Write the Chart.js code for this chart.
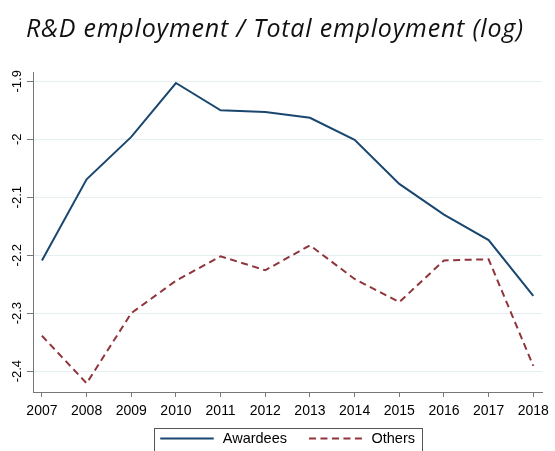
<!DOCTYPE html>
<html>
<head>
<meta charset="utf-8">
<script src="https://cdn.jsdelivr.net/npm/chart.js@4/dist/chart.umd.min.js"></script>
<style>
  html, body { margin: 0; padding: 0; overflow: hidden; background: #fff; }
  #wrap { width: 555px; height: 451px; position: relative; }
</style>
</head>
<body>
<div id="wrap"><canvas id="c"></canvas></div>
<script>
const years = [2007, 2008, 2009, 2010, 2011, 2012, 2013, 2014, 2015, 2016, 2017, 2018];
const awardees = [-2.209, -2.069, -1.996, -1.903, -1.950, -1.953, -1.963, -2.001, -2.077, -2.130, -2.174, -2.270];
const others = [-2.339, -2.421, -2.300, -2.244, -2.202, -2.226, -2.183, -2.241, -2.281, -2.209, -2.207, -2.391];
const yTicks = [-1.9, -2, -2.1, -2.2, -2.3, -2.4];
const titleText = 'R&D employment / Total employment (log)';

const AXIS = '#777777';
const LABEL_FONT = 'Liberation Sans, Arial, sans-serif';

// Italic title above the plot
const titlePlugin = {
  id: 'italicTitle',
  afterDraw(chart) {
    const ctx = chart.ctx;
    ctx.save();
    ctx.fillStyle = '#111';
    ctx.font = 'italic 25px "Open Sans"';
    ctx.letterSpacing = '0.8px';
    ctx.textBaseline = 'alphabetic';
    ctx.textAlign = 'left';
    ctx.fillText(titleText, 26, 37);
    ctx.restore();
  }
};

// Framed legend under the x axis, centred on the plot area,
// built from the datasets' own line styles
const framedLegend = {
  id: 'framedLegend',
  afterDraw(chart) {
    const ctx = chart.ctx;
    const sets = chart.data.datasets;
    const sample = 53.5, gapText = 9, gapItem = 22, pad = 6.5;
    const lineY = 438.5;
    ctx.save();
    ctx.font = '14.5px ' + LABEL_FONT;
    const widths = sets.map(d => ctx.measureText(d.label).width);
    const inner = widths.reduce((s, w) => s + sample + gapText + w, 0) + gapItem * (sets.length - 1);
    const area = chart.chartArea;
    const boxLeft = (area.left + area.right) / 2 - inner / 2 - pad;
    ctx.strokeStyle = '#555';
    ctx.lineWidth = 1;
    ctx.strokeRect(Math.round(boxLeft) + 0.5, 428.5, Math.round(inner + 2 * pad), 40);
    let x = boxLeft + pad;
    sets.forEach((d, i) => {
      ctx.beginPath();
      ctx.setLineDash(d.borderDash || []);
      ctx.strokeStyle = d.borderColor;
      ctx.lineWidth = d.borderWidth;
      ctx.moveTo(x, lineY);
      ctx.lineTo(x + sample, lineY);
      ctx.stroke();
      ctx.setLineDash([]);
      ctx.fillStyle = '#000';
      ctx.textBaseline = 'middle';
      ctx.textAlign = 'left';
      ctx.fillText(d.label, x + sample + gapText, lineY);
      x += sample + gapText + widths[i] + gapItem;
    });
    ctx.restore();
  }
};

new Chart(document.getElementById('c'), {
  type: 'line',
  data: {
    datasets: [
      {
        label: 'Awardees',
        data: years.map((y, i) => ({ x: y, y: awardees[i] })),
        borderColor: '#1a476f',
        backgroundColor: '#1a476f',
        borderWidth: 2,
        pointRadius: 0,
        tension: 0
      },
      {
        label: 'Others',
        data: years.map((y, i) => ({ x: y, y: others[i] })),
        borderColor: '#90353b',
        backgroundColor: '#90353b',
        borderWidth: 2,
        borderDash: [7, 4.5],
        pointRadius: 0,
        tension: 0
      }
    ]
  },
  options: {
    responsive: true,
    maintainAspectRatio: false,
    animation: false,
    devicePixelRatio: 1,
    layout: { padding: { top: 72, right: 8, left: 0, bottom: 29 } },
    scales: {
      x: {
        type: 'linear',
        min: 2006.8,
        max: 2018.2,
        afterBuildTicks: s => { s.ticks = years.map(v => ({ value: v })); },
        afterFit: s => { s.height = 30; },
        ticks: {
          autoSkip: false,
          maxRotation: 0,
          minRotation: 0,
          padding: 6,
          color: '#000',
          font: { family: LABEL_FONT, size: 14 },
          callback: v => String(v)
        },
        grid: { drawOnChartArea: false, drawTicks: true, tickLength: 5, tickColor: AXIS },
        border: { color: AXIS, width: 1 }
      },
      y: {
        min: -2.436,
        max: -1.884,
        afterBuildTicks: s => { s.ticks = yTicks.map(v => ({ value: v })); },
        afterFit: s => { s.width = 33; },
        ticks: {
          minRotation: 90,
          maxRotation: 90,
          crossAlign: 'center',
          padding: -2,
          color: '#000',
          font: { family: LABEL_FONT, size: 13 },
          callback: v => String(v)
        },
        grid: { color: '#e6efef', lineWidth: 1, drawTicks: true, tickLength: 6, tickColor: AXIS },
        border: { color: AXIS, width: 1 }
      }
    },
    plugins: {
      title: { display: false },
      tooltip: { enabled: false },
      legend: { display: false }
    }
  },
  plugins: [titlePlugin, framedLegend]
});
</script>
</body>
</html>
